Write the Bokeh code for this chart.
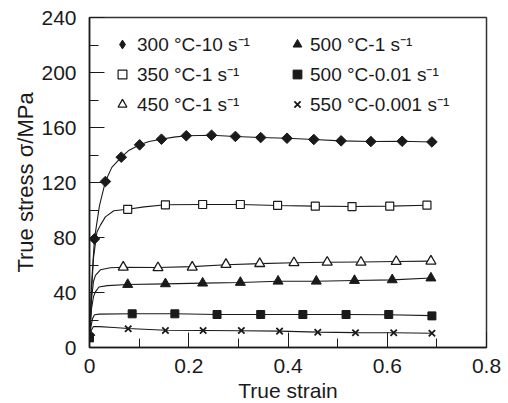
import math
from bokeh.plotting import figure
from bokeh.models import Range1d, FixedTicker, Legend, LegendItem
from bokeh.embed import file_html
from bokeh.resources import INLINE

# ---------------- data ----------------
x_ticks = [0, 0.2, 0.4, 0.6, 0.8]
x_minor = [0.1, 0.3, 0.5, 0.7]
x_tick_labels = ["0", "0.2", "0.4", "0.6", "0.8"]
y_ticks = [0, 40, 80, 120, 160, 200, 240]
y_minor = [20, 60, 100, 140, 180, 220]

labels = ["300 °C-10 s⁻¹", "350 °C-1 s⁻¹", "450 °C-1 s⁻¹",
          "500 °C-1 s⁻¹", "500 °C-0.01 s⁻¹", "550 °C-0.001 s⁻¹"]

# continuous curves
c300_x = [0, 0.004, 0.01, 0.02, 0.032, 0.045, 0.064, 0.08, 0.101, 0.12, 0.145, 0.17, 0.195,
          0.246, 0.294, 0.345, 0.398, 0.452, 0.507, 0.567, 0.63, 0.69]
c300_y = [5, 45, 79, 103, 120.7, 131, 138.4, 143.5, 147.4, 149.8, 151.5, 153, 154,
          154.4, 153.5, 152.7, 152.2, 151.3, 150.3, 149.8, 150, 149.5]
c350_x = [0, 0.004, 0.008, 0.015, 0.022, 0.032, 0.049, 0.077, 0.11, 0.153, 0.228, 0.304,
          0.379, 0.455, 0.529, 0.605, 0.68]
c350_y = [5, 40, 65, 84, 89, 95, 99.5, 100.5, 102.3, 103.8, 104, 104, 103.3, 102.8, 102.5,
          102.8, 103.5]
c450_x = [0, 0.004, 0.008, 0.012, 0.022, 0.042, 0.068, 0.138, 0.207, 0.275, 0.343, 0.412,
          0.479, 0.547, 0.618, 0.688]
c450_y = [5, 35, 48, 52.4, 56.5, 58, 58.4, 58.2, 58.8, 60.2, 61, 61.6, 62, 62.2, 62.5, 62.8]
c500a_x = [0, 0.004, 0.008, 0.012, 0.019, 0.036, 0.077, 0.153, 0.228, 0.304, 0.38, 0.457,
           0.534, 0.61, 0.688]
c500a_y = [5, 28, 37, 40.5, 44, 45, 45.8, 46.3, 46.8, 47.3, 48.2, 48.2, 48.7, 49.2, 50.5]
c500b_x = [0, 0.003, 0.006, 0.01, 0.02, 0.086, 0.172, 0.257, 0.345, 0.43, 0.517, 0.603, 0.69]
c500b_y = [5, 15, 21, 23.8, 24.3, 24.5, 24.5, 24, 24, 24, 24, 23.8, 23.2]
c550_x = [0, 0.003, 0.008, 0.02, 0.049, 0.078, 0.153, 0.229, 0.306, 0.383, 0.46, 0.536,
          0.613, 0.69]
c550_y = [5, 12, 15.3, 15.2, 14.6, 13.8, 12.6, 12.4, 12.2, 11.9, 11.2, 10.8, 10.7, 10.4]

# markers
m300_x = [0, 0.01, 0.032, 0.064, 0.101, 0.145, 0.195, 0.246, 0.294, 0.345, 0.398, 0.452,
          0.507, 0.567, 0.63, 0.69]
m300_y = [9, 79, 120.7, 138.4, 147.4, 151.5, 154, 154.4, 153.5, 152.7, 152.2, 151.3,
          150.3, 149.8, 150, 149.5]
m350_x = [0.077, 0.153, 0.228, 0.304, 0.379, 0.455, 0.529, 0.605, 0.68]
m350_y = [100.5, 103.8, 104, 104, 103.3, 102.8, 102.5, 102.8, 103.5]
m450_x = [0.068, 0.138, 0.207, 0.275, 0.343, 0.412, 0.479, 0.547, 0.618, 0.688]
m450_y = [58.4, 58, 58.4, 60.4, 61, 61.6, 62, 62, 62.5, 62.8]
m500a_x = [0.077, 0.153, 0.228, 0.304, 0.38, 0.457, 0.534, 0.61, 0.688]
m500a_y = [45.8, 46.3, 46.8, 47.3, 48.2, 48.2, 48.7, 49.2, 50.5]
m500b_x = [0, 0.086, 0.172, 0.257, 0.345, 0.43, 0.517, 0.603, 0.69]
m500b_y = [7, 24.5, 24.5, 24, 24, 24, 24, 24, 23]
m550_x = [0.078, 0.153, 0.229, 0.306, 0.383, 0.46, 0.536, 0.613, 0.69]
m550_y = [13.6, 12.4, 12.4, 12.4, 11.9, 11.1, 10.7, 10.7, 10.4]

# ---------------- figure ----------------
FONT = "Liberation Sans"
INK = "#1a1a1a"

p = figure(frame_width=397, frame_height=330,
           min_border_left=89, min_border_top=17, min_border_right=20, min_border_bottom=55,
           x_range=Range1d(0, 0.8), y_range=Range1d(0, 240),
           output_backend="svg", toolbar_location=None)
p.xgrid.visible = False
p.ygrid.visible = False
p.outline_line_color = "#333333"
p.outline_line_width = 1.5
p.background_fill_color = "white"
p.border_fill_color = "white"

p.xaxis.ticker = FixedTicker(ticks=x_ticks, minor_ticks=x_minor)
p.xaxis.major_label_overrides = {t: l for t, l in zip(x_ticks, x_tick_labels)}
p.yaxis.ticker = FixedTicker(ticks=y_ticks, minor_ticks=y_minor)
p.xaxis.axis_label = "True strain"
p.yaxis.axis_label = "True stress σ/MPa"

for ax in (p.xaxis[0], p.yaxis[0]):
    ax.major_tick_in = 15
    ax.major_tick_out = 0
    ax.minor_tick_in = 9
    ax.minor_tick_out = 0
    ax.axis_line_color = INK
    ax.axis_line_width = 1.5
    ax.major_tick_line_color = INK
    ax.minor_tick_line_color = INK
    ax.major_tick_line_width = 1
    ax.minor_tick_line_width = 1
    ax.major_label_text_font = FONT
    ax.major_label_text_font_size = "21px"
    ax.major_label_text_color = INK
    ax.axis_label_text_font = FONT
    ax.axis_label_text_font_size = "21px"
    ax.axis_label_text_font_style = "normal"
    ax.axis_label_text_color = INK
p.yaxis.axis_label_text_font_size = "22px"
p.xaxis.major_label_standoff = 11
p.xaxis.axis_label_standoff = 3
p.yaxis.major_label_standoff = 13
p.yaxis.axis_label_standoff = 0

# curves
for cx, cy in [(c300_x, c300_y), (c350_x, c350_y), (c450_x, c450_y),
               (c500a_x, c500a_y), (c500b_x, c500b_y), (c550_x, c550_y)]:
    p.line(cx, cy, line_color=INK, line_width=1.1)

# legend key for the diamond series: a true diamond marker hidden under the plot markers
r300_key = p.scatter(m300_x, m300_y, marker="diamond", size=7, fill_color=INK,
                     line_color=INK)
r300 = p.scatter(m300_x, m300_y, marker="square", angle=math.pi / 4, size=7.5,
                 fill_color=INK, line_color=INK)
r350 = p.scatter(m350_x, m350_y, marker="square", size=8, fill_color="white",
                 line_color=INK, line_width=1.2)
r450 = p.scatter(m450_x, m450_y, marker="triangle", size=10, fill_color="white",
                 line_color=INK, line_width=1.3)
r500a = p.scatter(m500a_x, m500a_y, marker="triangle", size=10, fill_color=INK,
                  line_color=INK)
r500b = p.scatter(m500b_x, m500b_y, marker="square", size=8, fill_color=INK,
                  line_color=INK)
r550 = p.scatter(m550_x, m550_y, marker="x", size=9, line_color=INK, line_width=1.8)

renders = [r300_key, r350, r450, r500a, r500b, r550]


def make_legend(items, loc, standoff):
    lg = Legend(items=items, location=loc)
    lg.border_line_color = None
    lg.background_fill_alpha = 0
    lg.padding = 0
    lg.margin = 0
    lg.spacing = 4
    lg.glyph_width = 22
    lg.glyph_height = 22
    lg.label_height = 20
    lg.label_standoff = standoff
    lg.label_text_font = FONT
    lg.label_text_font_size = "19px"
    lg.label_text_color = INK
    return lg


leg1 = make_legend([LegendItem(label=labels[i], renderers=[renders[i]]) for i in range(3)],
                   (22, 230), 4)
leg2 = make_legend([LegendItem(label=labels[i], renderers=[renders[i]]) for i in range(3, 6)],
                   (197, 230), 2)
p.add_layout(leg1)
p.add_layout(leg2)

open("out.html", "w").write(file_html(p, INLINE))
